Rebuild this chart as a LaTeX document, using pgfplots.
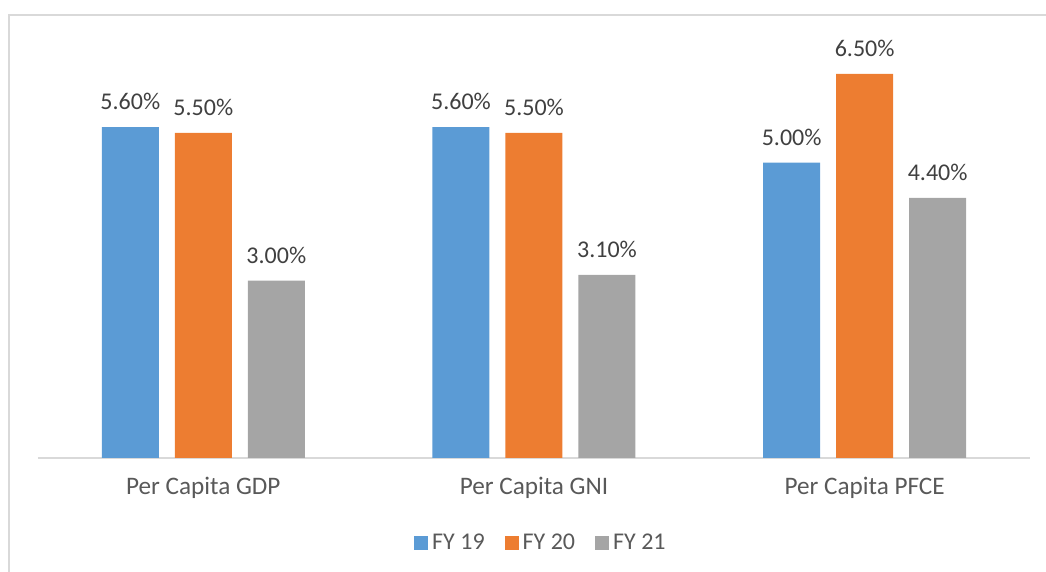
\documentclass[border=0pt]{standalone}
\usepackage{fontspec}
\setmainfont{Carlito}
\usepackage{pgfplots}
\pgfplotsset{compat=1.18}
\definecolor{cblue}{HTML}{5B9BD5}
\definecolor{corange}{HTML}{ED7D31}
\definecolor{cgray}{HTML}{A5A5A5}
\definecolor{axisgray}{HTML}{D9D9D9}
\definecolor{labgray}{HTML}{595959}
\definecolor{valgray}{HTML}{404040}
\begin{document}
\begin{tikzpicture}
\begin{axis}[
  scale only axis, width=496pt, height=206.85pt,
  ymin=0, ymax=7, xmin=-0.5, xmax=2.5,
  ybar=8pt, bar width=28.5pt,
  axis x line*=bottom, axis y line=none,
  x axis line style={draw=axisgray, line width=0.8pt, -},
  xtick={0,1,2},
  xticklabels={Per Capita GDP, Per Capita GNI, Per Capita PFCE},
  major tick length=0pt,
  xticklabel style={font=\fontsize{12.6}{15}\selectfont, text=labgray, yshift=-6pt},
  ytick=\empty,
  /pgf/number format/assume math mode=true,
  nodes near coords={\pgfmathprintnumber[fixed,fixed zerofill,precision=2]{\pgfplotspointmeta}\%},
  every node near coord/.append style={font=\fontsize{12}{14}\selectfont, text=valgray, yshift=5pt},
  legend columns=3,
  legend style={at={(0.508,-0.2054)}, anchor=center, draw=none, fill=none,
    font=\fontsize{12}{14}\selectfont, text=labgray,
    /tikz/every even column/.append style={column sep=8pt}},
  legend image code/.code={\fill[#1] (0pt,-3.5pt) rectangle (7pt,3.5pt);},
]
\addplot[fill=cblue, draw=none] coordinates {(0,5.6) (1,5.6) (2,5.0)};
\addplot[fill=corange, draw=none] coordinates {(0,5.5) (1,5.5) (2,6.5)};
\addplot[fill=cgray, draw=none] coordinates {(0,3.0) (1,3.1) (2,4.4)};
\legend{FY 19, FY 20, FY 21}
\end{axis}
\draw[axisgray, line width=0.8pt] (-14.5pt,-60pt) -- (-14.5pt,221.5pt) -- (530pt,221.5pt);
\pgfresetboundingbox
\useasboundingbox (-19pt,-57pt) rectangle (504pt,229pt);
\end{tikzpicture}
\end{document}
